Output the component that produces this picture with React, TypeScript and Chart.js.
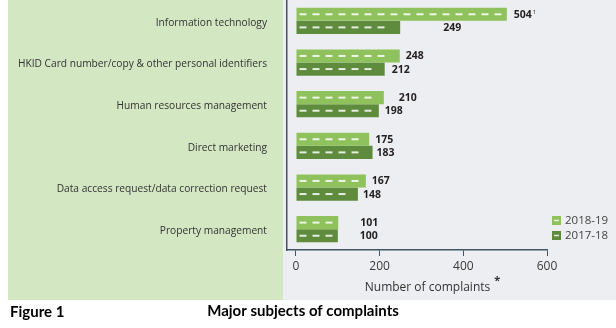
import React, { useEffect, useRef } from "react";
import { Chart, registerables } from "chart.js";

Chart.register(...registerables);

const categories = [
  "Information technology",
  "HKID Card number/copy & other personal identifiers",
  "Human resources management",
  "Direct marketing",
  "Data access request/data correction request",
  "Property management",
];
const seriesLabels = ["2018-19", "2017-18"];
const values2018 = [504, 248, 210, 175, 167, 101];
const values2017 = [249, 212, 198, 183, 148, 100];
const notes2018 = ["1", "", "", "", "", ""];
const xTicks = [0, 200, 400, 600];
const xTitle = "Number of complaints";
const xTitleNote = "*";
const figureLabel = "Figure 1";
const chartTitle = "Major subjects of complaints";

const COLORS = ["#8fc15c", "#5e8b3c"];
const AXIS = "#3f5566";
const FONT = '"Open Sans", "Noto Sans", sans-serif';
const TITLE_FONT = 'Lato, "Open Sans", sans-serif';

const decor = {
  id: "decor",
  beforeDraw(chart: any) {
    const ctx = chart.ctx;
    ctx.save();
    ctx.fillStyle = "#ffffff";
    ctx.fillRect(0, 0, chart.width, chart.height);
    ctx.fillStyle = "#d3e7c3";
    ctx.fillRect(8, 0, 275, 300);
    ctx.fillStyle = "#eceef1";
    ctx.fillRect(283, 0, chart.width - 283, 300);
    ctx.restore();
  },
  afterDatasetsDraw(chart: any, _args: any, opts: any) {
    const ctx = chart.ctx;
    ctx.save();
    chart.data.datasets.forEach((ds: any, di: number) => {
      const meta = chart.getDatasetMeta(di);
      meta.data.forEach((bar: any, i: number) => {
        const { x, y, base } = bar.getProps(["x", "y", "base"], true);
        // white dashes
        ctx.strokeStyle = "rgba(255,255,255,0.85)";
        ctx.lineWidth = 2;
        let sx = base + 3;
        while (sx + 7 <= x - 3) {
          ctx.beginPath();
          ctx.moveTo(sx, y);
          ctx.lineTo(sx + 7, y);
          ctx.stroke();
          sx += 13;
        }
        // value label
        const txt = String(ds.data[i]);
        const lx = x + opts.offsets[di][i];
        ctx.font = `bold 10.5px ${FONT}`;
        ctx.fillStyle = "#231f20";
        ctx.textAlign = "left";
        ctx.textBaseline = "middle";
        ctx.fillText(txt, lx, y + 0.5);
        const note = di === 0 ? notes2018[i] : "";
        if (note) {
          const w = ctx.measureText(txt).width;
          ctx.font = `6px ${FONT}`;
          ctx.fillText(note, lx + w + 1, y - 2);
        }
      });
    });
    ctx.restore();
  },
  afterDraw(chart: any) {
    const ctx = chart.ctx;
    const area = chart.chartArea;
    ctx.save();
    // legend
    chart.data.datasets.forEach((ds: any, di: number) => {
      const ly = 216 + di * 15;
      ctx.fillStyle = ds.backgroundColor;
      ctx.fillRect(552, ly, 9, 9);
      ctx.strokeStyle = "rgba(255,255,255,0.85)";
      ctx.lineWidth = 1.5;
      ctx.beginPath();
      ctx.moveTo(554, ly + 4.5);
      ctx.lineTo(559, ly + 4.5);
      ctx.stroke();
      ctx.font = `11.5px ${FONT}`;
      ctx.fillStyle = "#444444";
      ctx.textAlign = "left";
      ctx.textBaseline = "middle";
      ctx.fillText(ds.label, 565, ly + 5);
    });
    // axis title
    const xs = chart.scales.x;
    const cx = (xs.getPixelForValue(0) + xs.getPixelForValue(600)) / 2 + 6;
    ctx.font = `12px ${FONT}`;
    ctx.fillStyle = "#333333";
    ctx.textAlign = "center";
    ctx.textBaseline = "middle";
    ctx.fillText(xTitle, cx, area.bottom + 38);
    const tw = ctx.measureText(xTitle).width;
    ctx.font = `bold 11px ${FONT}`;
    ctx.textAlign = "left";
    ctx.fillText(xTitleNote, cx + tw / 2 + 4, area.bottom + 31);
    // figure label and title
    ctx.font = `bold 15px ${TITLE_FONT}`;
    ctx.fillStyle = "#000000";
    ctx.textAlign = "left";
    ctx.fillText(figureLabel, 10, 312);
    ctx.textAlign = "center";
    ctx.fillText(chartTitle, 303, 311);
    ctx.restore();
  },
};

export default function App() {
  const ref = useRef<HTMLCanvasElement>(null);
  useEffect(() => {
    if (!ref.current) return;
    const chart = new Chart(ref.current, {
      type: "bar",
      data: {
        labels: categories,
        datasets: [
          { label: seriesLabels[0], data: values2018, backgroundColor: COLORS[0] },
          { label: seriesLabels[1], data: values2017, backgroundColor: COLORS[1] },
        ],
      },
      options: {
        indexAxis: "y",
        animation: false,
        responsive: false,
        devicePixelRatio: 1,
        datasets: { bar: { categoryPercentage: 0.63, barPercentage: 1 } },
        layout: { padding: { left: 0, right: 69, top: 0, bottom: 0 } },
        plugins: {
          legend: { display: false },
          tooltip: { enabled: false },
          decor: { offsets: [[7, 6, 15, 6, 6, 22], [43, 7, 6, 4, 5, 22]] },
        } as any,
        scales: {
          x: {
            type: "linear",
            min: -21.5,
            max: 600,
            afterBuildTicks: (s: any) => {
              s.ticks = xTicks.map((v) => ({ value: v }));
            },
            afterFit: (s: any) => {
              s.height = 78;
              s.paddingLeft = 0;
              s.paddingRight = 0;
            },
            grid: { display: true, drawOnChartArea: false, drawTicks: true, tickLength: 6, color: AXIS, lineWidth: 1 },
            border: { display: true, color: AXIS, width: 1.5 },
            ticks: { font: { family: FONT, size: 12 }, color: "#3a3a3a", padding: 3, maxRotation: 0 },
          },
          y: {
            type: "category",
            afterFit: (s: any) => {
              s.width = 287;
              s.paddingTop = 0;
              s.paddingBottom = 0;
            },
            grid: { display: false, drawTicks: false },
            border: { display: true, color: AXIS, width: 1.5 },
            ticks: { font: { family: FONT, size: 10.2 }, color: "#333333", padding: 20, autoSkip: false, labelOffset: 2 },
          },
        },
      },
      plugins: [decor],
    });
    return () => chart.destroy();
  }, []);
  return (
    <div style={{ position: "absolute", left: 0, top: 0, width: 616, height: 328 }}>
      <canvas ref={ref} width={616} height={328} style={{ width: 616, height: 328, display: "block" }} />
    </div>
  );
}
